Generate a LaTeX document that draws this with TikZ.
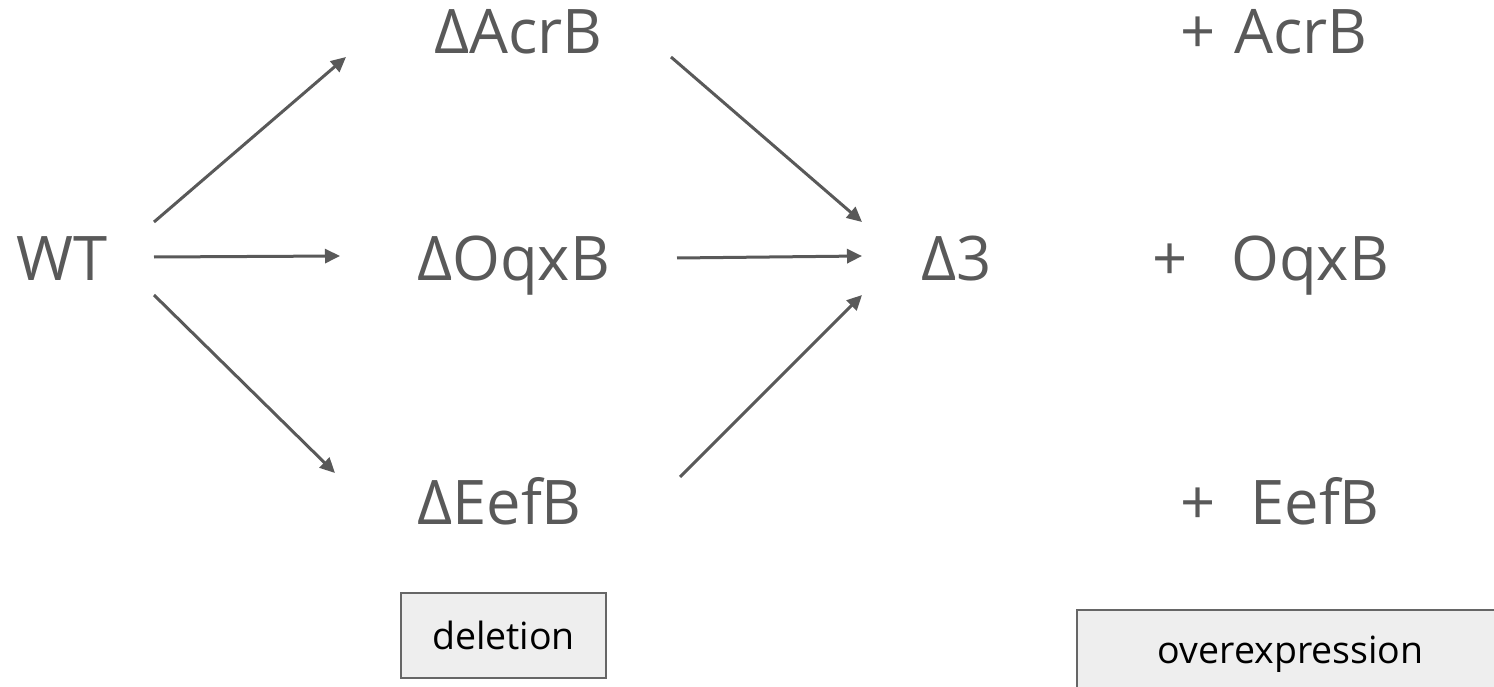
\documentclass[tikz,border=0pt]{standalone}
\usepackage{fontspec}
\setmainfont{Open Sans}
\usetikzlibrary{arrows.meta}
\definecolor{txt}{HTML}{595959}
\definecolor{boxfill}{HTML}{EEEEEE}
\definecolor{boxline}{HTML}{666666}
\tikzset{
  big/.style={text=txt, font=\fontsize{61.5}{72}\selectfont, inner sep=0pt, anchor=base west},
  arr/.style={draw=txt, line width=3pt, -{Triangle[length=15pt,width=14pt]}},
  labelbox/.style={draw=boxline, fill=boxfill, line width=1.5pt, font=\fontsize{37.5}{44}\selectfont, text=black, inner sep=0pt}
}
\begin{document}
\begin{tikzpicture}[x=1pt,y=-1pt]
\useasboundingbox (0,0) rectangle (1494,687);
\clip (0,0) rectangle (1494,687);
\node[big] (wt) at (16,280) {WT};
\node[big] (acr) at (434,54) {ΔAcrB};
\node[big] (oqx) at (417,280) {ΔOqxB};
\node[big] (eef) at (417,524) {ΔEefB};
\node[big] (d3) at (921,280) {Δ3};
\node[big] (pacr) at (1180,54) {+\hspace{19pt}AcrB};
\node[big] (poqx) at (1152,280) {+\hspace{44pt}OqxB};
\node[big] (peef) at (1180,524) {+\hspace{35pt}EefB};
\node[labelbox, minimum width=205pt, minimum height=85pt] (del) at (503.5,635.5) {deletion};
\node[labelbox, minimum width=428pt, minimum height=88pt, anchor=north west] (over) at (1076,609) {overexpression};
\draw[arr] ([shift={(138,-58)}]wt.base west) -- ([shift={(-88,3)}]acr.base west);
\draw[arr] ([shift={(138,-23)}]wt.base west) -- ([shift={(-77,-24)}]oqx.base west);
\draw[arr] ([shift={(138,15)}]wt.base west) -- ([shift={(-82,-51)}]eef.base west);
\draw[arr] ([shift={(237,3)}]acr.base west) -- ([shift={(-59,-58)}]d3.base west);
\draw[arr] ([shift={(260,-22)}]oqx.base west) -- ([shift={(-59,-24)}]d3.base west);
\draw[arr] ([shift={(263,-47)}]eef.base west) -- ([shift={(-59,15)}]d3.base west);
\end{tikzpicture}
\end{document}
